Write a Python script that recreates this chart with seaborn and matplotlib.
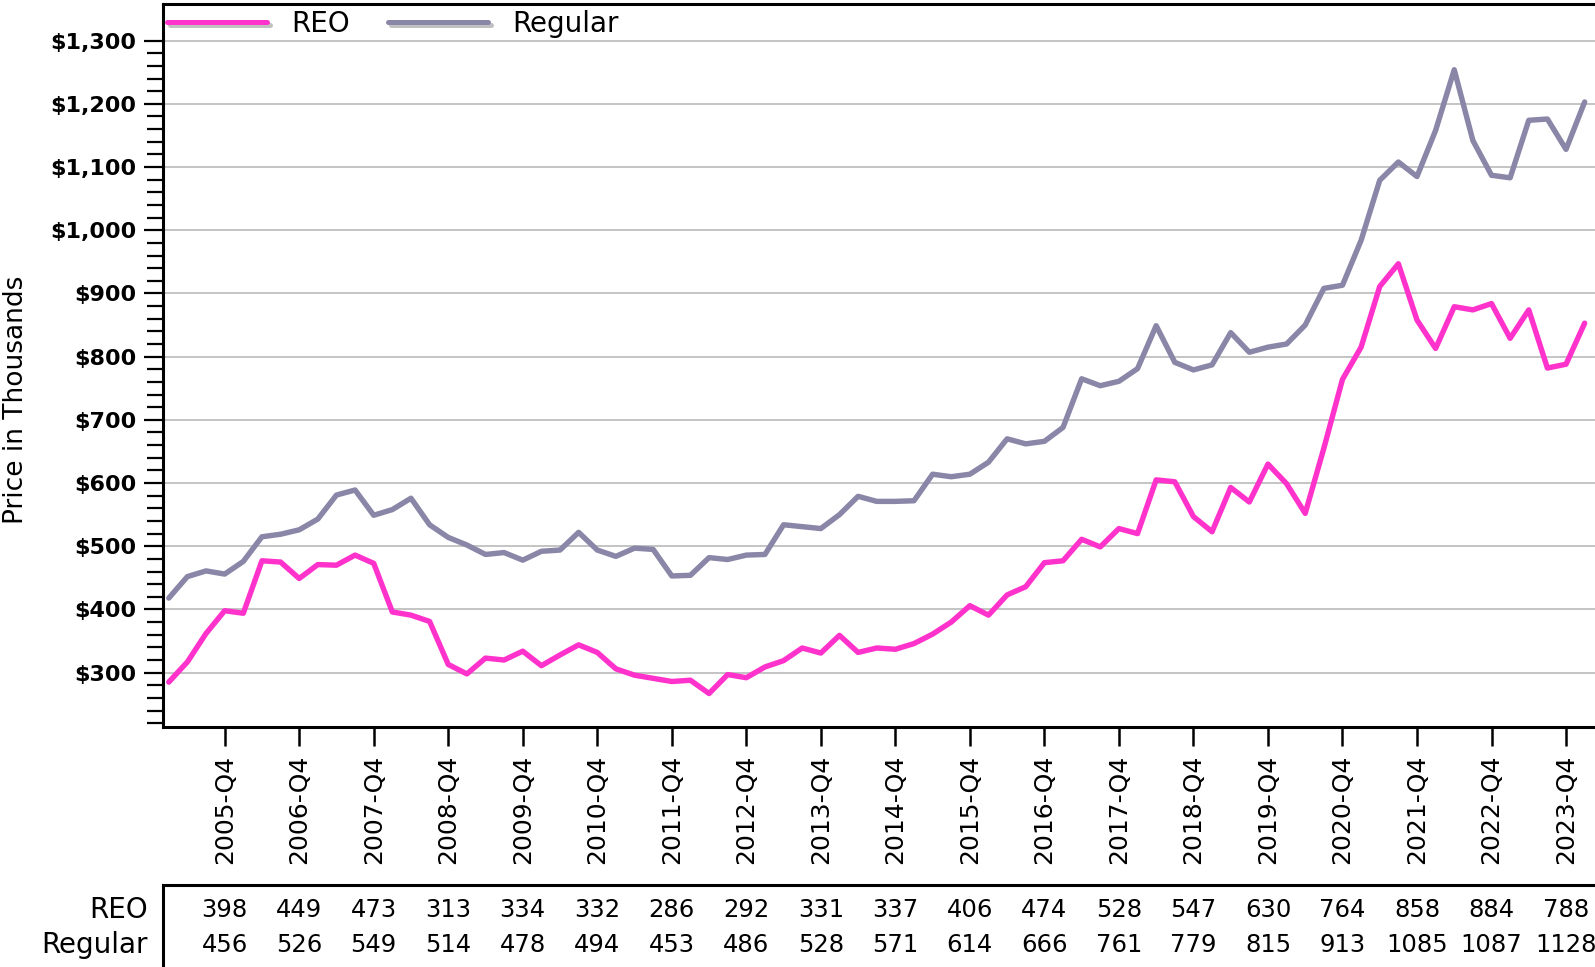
import numpy as np
import pandas as pd
import matplotlib
matplotlib.use("Agg")
import matplotlib.pyplot as plt
import matplotlib.patheffects as pe
import seaborn as sns

# quarterly median prices (thousands), 2005-Q1 .. 2024-Q1
quarters = [f"{y}-Q{q}" for y in range(2005, 2025) for q in range(1, 5)][:77]

reo = [285, 317, 362, 398, 394, 477, 475, 449, 471, 470, 486, 473,
       396, 391, 381, 313, 298, 323, 320, 334, 311, 328, 344, 332,
       306, 296, 291, 286, 288, 267, 297, 292, 309, 319, 339, 331,
       359, 332, 339, 337, 346, 361, 380, 406, 391, 423, 436, 474,
       477, 511, 499, 528, 520, 605, 602, 547, 523, 593, 570, 630,
       599, 552, 655, 764, 815, 911, 947, 858, 813, 879, 874, 884,
       829, 874, 782, 788, 853]

regular = [418, 452, 461, 456, 476, 515, 519, 526, 543, 581, 589, 549,
           558, 576, 534, 514, 502, 487, 490, 478, 492, 494, 522, 494,
           484, 497, 495, 453, 454, 482, 479, 486, 487, 534, 531, 528,
           550, 579, 571, 571, 572, 614, 610, 614, 633, 670, 662, 666,
           688, 765, 754, 761, 781, 849, 791, 779, 787, 838, 807, 815,
           820, 850, 908, 913, 984, 1079, 1108, 1085, 1158, 1254, 1142, 1087,
           1083, 1174, 1176, 1128, 1203]

q4_labels = ["2005-Q4", "2006-Q4", "2007-Q4", "2008-Q4", "2009-Q4", "2010-Q4",
             "2011-Q4", "2012-Q4", "2013-Q4", "2014-Q4", "2015-Q4", "2016-Q4",
             "2017-Q4", "2018-Q4", "2019-Q4", "2020-Q4", "2021-Q4", "2022-Q4",
             "2023-Q4"]

y_major = [300, 400, 500, 600, 700, 800, 900, 1000, 1100, 1200, 1300]

colors = {"REO": "#FF33CC", "Regular": "#8A86A8"}

df = pd.DataFrame({
    "t": list(range(len(quarters))) * 2,
    "quarter": quarters * 2,
    "price": reo + regular,
    "type": ["REO"] * len(reo) + ["Regular"] * len(regular),
})
q4_pos = [quarters.index(q) for q in q4_labels]

sns.set_theme(style="white")
plt.rcParams['font.family'] = ['DejaVu Sans']
plt.rcParams['text.color'] = 'black'
plt.rcParams['xtick.color'] = 'black'
plt.rcParams['ytick.color'] = 'black'

W, H = 1595, 967
fig = plt.figure(figsize=(W / 100, H / 100), dpi=100)
ax = fig.add_axes([163 / W, 1 - 727 / H, 1450 / W, 723 / H])

sns.lineplot(data=df, x="t", y="price", hue="type", palette=colors,
             linewidth=3.9, ax=ax)

x0 = -0.31
ax.set_xlim(x0, x0 + 1450 / 18.63)
ax.set_ylim(214, 1358)

ax.set_yticks(y_major, labels=[f"${v:,}" for v in y_major], fontweight="bold")
ax.set_yticks([v for v in range(220, 1301, 20) if v % 100], minor=True)
ax.set_xticks(q4_pos, labels=q4_labels, rotation=90)
ax.tick_params(axis="y", which="major", length=14, width=1.6, pad=5,
               labelsize=16, color="black", labelcolor="black", left=True)
ax.tick_params(axis="y", which="minor", length=11.5, width=1.6,
               color="black", left=True)
ax.tick_params(axis="x", which="major", length=14, width=1.8, pad=6,
               labelsize=18, color="black", labelcolor="black", bottom=True)
ax.set_xlabel("")
ax.set_ylabel("")
ax.yaxis.grid(True, which="major", color="#c4c4c4", linewidth=1.4)
ax.xaxis.grid(False)
ax.set_axisbelow(True)
for s in ax.spines.values():
    s.set_color("black")
    s.set_linewidth(2.2)

fig.text(16 / W, 1 - 400 / H, "Price in Thousands", rotation=90,
         ha="center", va="center", fontsize=19, color="black")

handles, labels = ax.get_legend_handles_labels()
leg = ax.legend(handles, labels, loc="center left",
                bbox_to_anchor=(167 / W, 1 - 24 / H), bbox_transform=fig.transFigure,
                ncol=2, frameon=False, fontsize=20, handlelength=3.6,
                handletextpad=0.86, columnspacing=1.4, borderpad=0, borderaxespad=0,
                labelcolor="black")
for line in leg.get_lines():
    line.set_linewidth(3.6)
    line.set_path_effects([pe.SimpleLineShadow(offset=(2, -2), shadow_color="#c0c0c0", alpha=1.0),
                           pe.Normal()])

# data table under the axis
tax = fig.add_axes([163 / W, 0, 1450 / W, (H - 885) / H])
tax.set_xlim(ax.get_xlim())
tax.set_ylim(0, 1)
tax.set_xticks([])
tax.set_yticks([])
for side in ["bottom", "right"]:
    tax.spines[side].set_visible(False)
for side in ["top", "left"]:
    tax.spines[side].set_color("black")
    tax.spines[side].set_linewidth(2.2)

row_y = {"REO": (H - 910) / (H - 885), "Regular": (H - 945) / (H - 885)}
for name, series in [("REO", reo), ("Regular", regular)]:
    fig.text(148 / W, 1 - (910 if name == "REO" else 945) / H, name,
             ha="right", va="center", fontsize=20, color="black")
    for p in q4_pos:
        tax.text(p, row_y[name], str(series[p]), ha="center", va="center",
                 fontsize=17.5, color="black", clip_on=False)

fig.savefig("out.png", dpi=100)
